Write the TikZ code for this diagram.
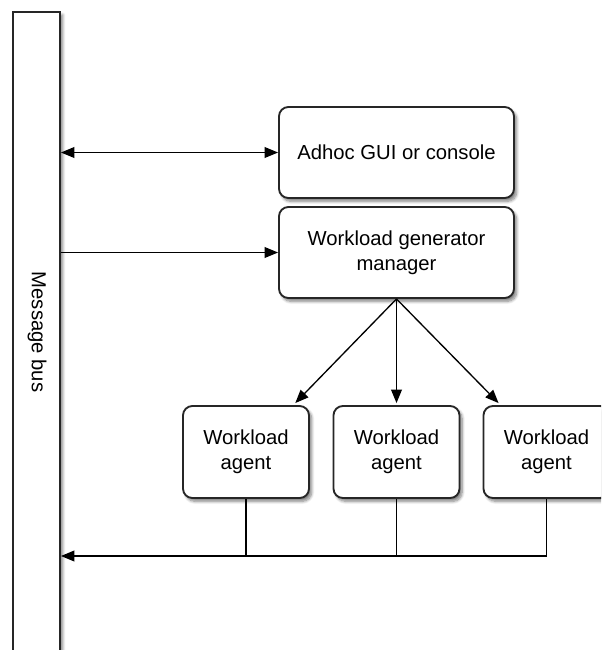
\documentclass[tikz,border=0pt]{standalone}
\usepackage{fontspec}
\setmainfont{Liberation Sans}
\usetikzlibrary{arrows.meta,shadows.blur,calc}
\begin{document}
\begin{tikzpicture}[x=0.75pt,y=-0.75pt,
  box/.style={draw=black!85, line width=1.4pt, rounded corners=7pt, fill=white,
    align=center, inner sep=0pt, font=\fontsize{15.2}{18.5}\selectfont,
    blur shadow={shadow xshift=2pt, shadow yshift=-2.5pt, shadow blur steps=8, shadow opacity=50}},
  bigbox/.style={box, minimum width=176.25pt, minimum height=68.25pt},
  agent/.style={box, minimum width=94.5pt, minimum height=69pt},
  label/.style={inner sep=0pt, font=\fontsize{15.2}{18}\selectfont},
  conn/.style={draw=black, line width=1pt},
  arr/.style={conn, -{Triangle[length=10pt,width=8pt]}},
  darr/.style={conn, {Triangle[length=10pt,width=8pt]}-{Triangle[length=10pt,width=8pt]}}
]
\useasboundingbox (0,0) rectangle (601,650);
\clip (0,0) rectangle (601,650);
\node[box, rounded corners=0pt, minimum width=35.25pt, minimum height=500pt] (bus) at (36.5,345) {};
\node[label, rotate=-90] (buslabel) at (37,332) {Message bus};
\node[bigbox] (gui) at (396.5,152.5) {Adhoc GUI or console};
\node[bigbox] (mgr) at (396.5,252.5) {Workload generator\\manager};
\node[agent] (a1) at (246,452) {Workload\\agent};
\node[agent] (a2) at (396.5,452) {Workload\\agent};
\node[agent] (a3) at (546.5,452) {Workload\\agent};
\coordinate (j) at (0,556);
\draw[darr] (bus.east |- gui.west) -- (gui.west);
\draw[arr] (bus.east |- mgr.west) -- (mgr.west);
\draw[arr] (mgr.south) -- ([xshift=-11pt,yshift=1.5pt]a1.north east);
\draw[arr] (mgr.south) -- ([yshift=1.5pt]a2.north);
\draw[arr] (mgr.south) -- ([xshift=12pt,yshift=1.5pt]a3.north west);
\draw[conn] (a1.south) -- (a1.south |- j);
\draw[conn] (a2.south) -- (a2.south |- j);
\draw[arr] (a3.south) |- (bus.east |- j);
\end{tikzpicture}
\end{document}
